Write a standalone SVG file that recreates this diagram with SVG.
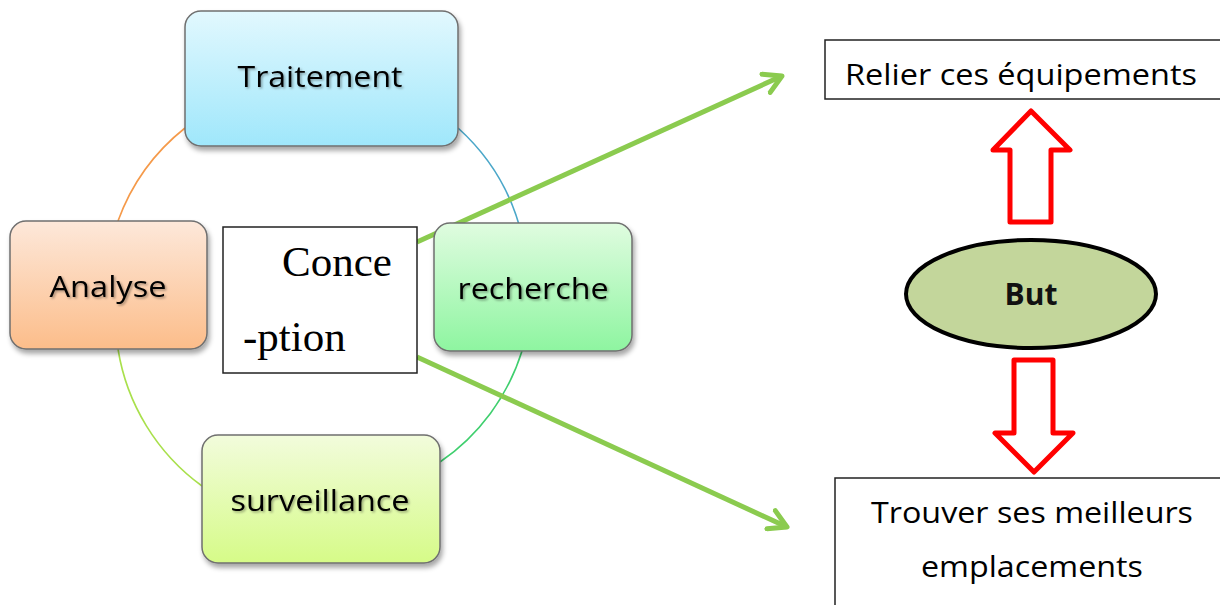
<svg xmlns="http://www.w3.org/2000/svg" width="1220" height="605" viewBox="0 0 1220 605">
  <defs>
    <linearGradient id="gCyan" x1="0" y1="0" x2="0" y2="1">
      <stop offset="0" stop-color="#e2f8fe"/>
      <stop offset="1" stop-color="#9fe7fb"/>
    </linearGradient>
    <linearGradient id="gPeach" x1="0" y1="0" x2="0" y2="1">
      <stop offset="0" stop-color="#fde8da"/>
      <stop offset="1" stop-color="#fcbd8a"/>
    </linearGradient>
    <linearGradient id="gGreen" x1="0" y1="0" x2="0" y2="1">
      <stop offset="0" stop-color="#e0fce0"/>
      <stop offset="1" stop-color="#8ef5a0"/>
    </linearGradient>
    <linearGradient id="gLime" x1="0" y1="0" x2="0" y2="1">
      <stop offset="0" stop-color="#f2fcdc"/>
      <stop offset="1" stop-color="#d6fb88"/>
    </linearGradient>
    <filter id="shadow" x="-10%" y="-10%" width="125%" height="130%">
      <feDropShadow dx="2" dy="4" stdDeviation="2.5" flood-color="#000" flood-opacity="0.35"/>
    </filter>
    <filter id="txtShadow" x="-5%" y="-20%" width="110%" height="150%">
      <feDropShadow dx="1.5" dy="1.5" stdDeviation="1" flood-color="#000" flood-opacity="0.35"/>
    </filter>
    <marker id="chev" viewBox="0 0 10 10" refX="8" refY="5" markerWidth="5" markerHeight="5" orient="auto" markerUnits="strokeWidth">
      <path d="M1,1 L8,5 L1,9" fill="none" stroke="#8bcb4f" stroke-width="2" stroke-linecap="round" stroke-linejoin="round"/>
    </marker>
  </defs>
  <style>
    .cycle { stroke: #6f6f6f; stroke-width: 1.5; filter: url(#shadow); }
    .lbl { font-family: "Open Sans", "Liberation Sans", sans-serif; font-size: 30px; font-weight: 500; fill: #000; text-anchor: middle; filter: url(#txtShadow); }
    .arc { fill: none; stroke-width: 1.6; }
    .green { fill: none; stroke: #8bcb4f; stroke-width: 5; marker-end: url(#chev); }
    .box { fill: #fff; stroke: #222; stroke-width: 1.5; }
    .goal { font-family: "Open Sans", "Liberation Sans", sans-serif; font-size: 29px; fill: #000; }
    .serif { font-family: "Liberation Serif", serif; font-size: 43px; fill: #000; }
    .red { fill: #fff; stroke: #ff0000; stroke-width: 5; stroke-linejoin: round; }
  </style>

  <!-- cycle ring, one coloured arc per quarter -->
  <g id="connectors">
    <path class="arc" stroke="#f59a4a" d="M118,221 A210,210 0 0 1 185,128"/>
    <path class="arc" stroke="#4ba7c9" d="M458,128 A210,210 0 0 1 522,236"/>
    <path class="arc" stroke="#3fcf6e" d="M522,351 A210,210 0 0 1 440,462"/>
    <path class="arc" stroke="#a9e04c" d="M118,349 A210,210 0 0 0 202,486"/>
    <line class="green" x1="417" y1="242" x2="782" y2="76"/>
    <line class="green" x1="417" y1="357" x2="787" y2="527"/>
  </g>

  <g id="traitement">
    <rect class="cycle" x="185" y="11" width="273" height="135" rx="16" fill="url(#gCyan)"/>
    <text class="lbl" x="320" y="87" textLength="165" lengthAdjust="spacingAndGlyphs">Traitement</text>
  </g>
  <g id="analyse">
    <rect class="cycle" x="10" y="221" width="197" height="128" rx="16" fill="url(#gPeach)"/>
    <text class="lbl" x="108" y="297" textLength="117" lengthAdjust="spacingAndGlyphs">Analyse</text>
  </g>
  <g id="recherche">
    <rect class="cycle" x="434" y="223" width="198" height="128" rx="16" fill="url(#gGreen)"/>
    <text class="lbl" x="533" y="299" textLength="151" lengthAdjust="spacingAndGlyphs">recherche</text>
  </g>
  <g id="surveillance">
    <rect class="cycle" x="202" y="435" width="238" height="128" rx="16" fill="url(#gLime)"/>
    <text class="lbl" x="320" y="511" textLength="179" lengthAdjust="spacingAndGlyphs">surveillance</text>
  </g>

  <g id="conception">
    <rect class="box" x="223" y="227" width="194" height="146"/>
    <text class="serif" x="282" y="276">Conce</text>
    <text class="serif" x="243" y="351">-ption</text>
  </g>

  <g id="relier">
    <rect class="box" x="825" y="40" width="400" height="59"/>
    <text class="goal" x="845" y="85" textLength="352" lengthAdjust="spacingAndGlyphs">Relier ces équipements</text>
  </g>

  <g id="arrow-up">
    <path class="red" d="M1031,111 L1070,150 L1051,150 L1051,222 L1010,222 L1010,150 L993,150 Z"/>
  </g>

  <g id="but">
    <ellipse cx="1031" cy="294" rx="125" ry="54" fill="#c3d69b" stroke="#000" stroke-width="4"/>
    <text x="1031" y="305" text-anchor="middle" font-family="'Open Sans', 'Liberation Sans', sans-serif" font-weight="bold" font-size="30" fill="#111">But</text>
  </g>

  <g id="arrow-down">
    <path class="red" d="M1014,360 L1053,360 L1053,433 L1073,433 L1034,472 L995,433 L1014,433 Z"/>
  </g>

  <g id="trouver">
    <rect class="box" x="835" y="478" width="400" height="140"/>
    <text class="goal" x="1032" y="523" text-anchor="middle" textLength="322" lengthAdjust="spacingAndGlyphs">Trouver ses meilleurs</text>
    <text class="goal" x="1032" y="577" text-anchor="middle" textLength="222" lengthAdjust="spacingAndGlyphs">emplacements</text>
  </g>
</svg>
